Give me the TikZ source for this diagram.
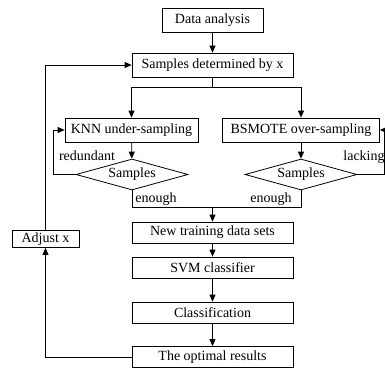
\documentclass[tikz,border=0pt]{standalone}
\usepackage{fontspec}
\setmainfont{Liberation Serif}
\usetikzlibrary{shapes.geometric,arrows.meta}
\begin{document}
\begin{tikzpicture}[x=1pt,y=-1pt,
  font=\fontsize{14}{16}\selectfont,
  line width=0.8pt,
  box/.style={draw, rectangle, inner sep=0pt, minimum height=24pt},
  lowbox/.style={draw, rectangle, inner sep=0pt, minimum width=161pt, minimum height=21pt},
  test/.style={draw, diamond, inner sep=0pt, aspect=3.6, minimum width=112pt, minimum height=31pt},
  arr/.style={-{Triangle[length=7pt,width=6pt]}},
  lbl/.style={inner sep=0pt}]
\useasboundingbox (0,0) rectangle (385,369);

% process boxes
\node[box, minimum width=101pt] (da)  at (212.5,20)  {Data analysis};
\node[box, minimum width=161pt] (sd)  at (212.5,65)  {Samples determined by x};
\node[box, minimum width=133pt] (knn) at (131.5,130) {KNN under-sampling};
\node[box, minimum width=157pt] (bs)  at (301,130)   {BSMOTE over-sampling};
\node[test] (d1) at (132,174.5) {Samples};
\node[test] (d2) at (301,174.5) {Samples};
\node[lowbox] (nt)  at (212.5,232.5) {New training data sets};
\node[lowbox] (svm) at (212.5,267.5) {SVM classifier};
\node[lowbox] (cl)  at (212.5,312.5) {Classification};
\node[lowbox] (opt) at (212.5,357)   {The optimal results};
\node[draw, rectangle, inner sep=0pt, minimum width=67pt, minimum height=17pt] (adj) at (45.5,239) {Adjust x};

% helper points
\coordinate (split) at (212.5,87);
\coordinate (merge) at (212.5,207);
\coordinate (lft) at (53,174.5);
\coordinate (rgt) at (384,174.5);

% main flow
\draw[arr] (da) -- (sd);
\draw (sd.south) -- (split);
\draw[arr] (split) -| (knn.north);
\draw[arr] (split) -| (bs.north);
\draw[arr] (knn) -- (d1);
\draw[arr] (bs) -- (d2);

% feedback of the two sampling tests
\draw[arr] (d1.west) -- (lft) |- (knn.west);
\draw[arr] (d2.east) -- (rgt) |- (bs.east);
\node[lbl] (red) at (87,156) {redundant};
\node[lbl] (lack) at (364,157) {lacking};

% merge of the two branches
\draw (d1.south) |- (merge);
\draw (d2.south) |- (merge);
\node[lbl] (en1) at (156,199) {enough};
\node[lbl] (en2) at (271,199) {enough};
\draw[arr] (merge) -- (nt);
\draw[arr] (nt) -- (svm);
\draw[arr] (svm) -- (cl);
\draw[arr] (cl) -- (opt);

% outer loop adjusting x
\draw[arr] (opt.west) -| (adj.south);
\draw[arr] (adj.north) |- (sd.west);
\end{tikzpicture}
\end{document}
